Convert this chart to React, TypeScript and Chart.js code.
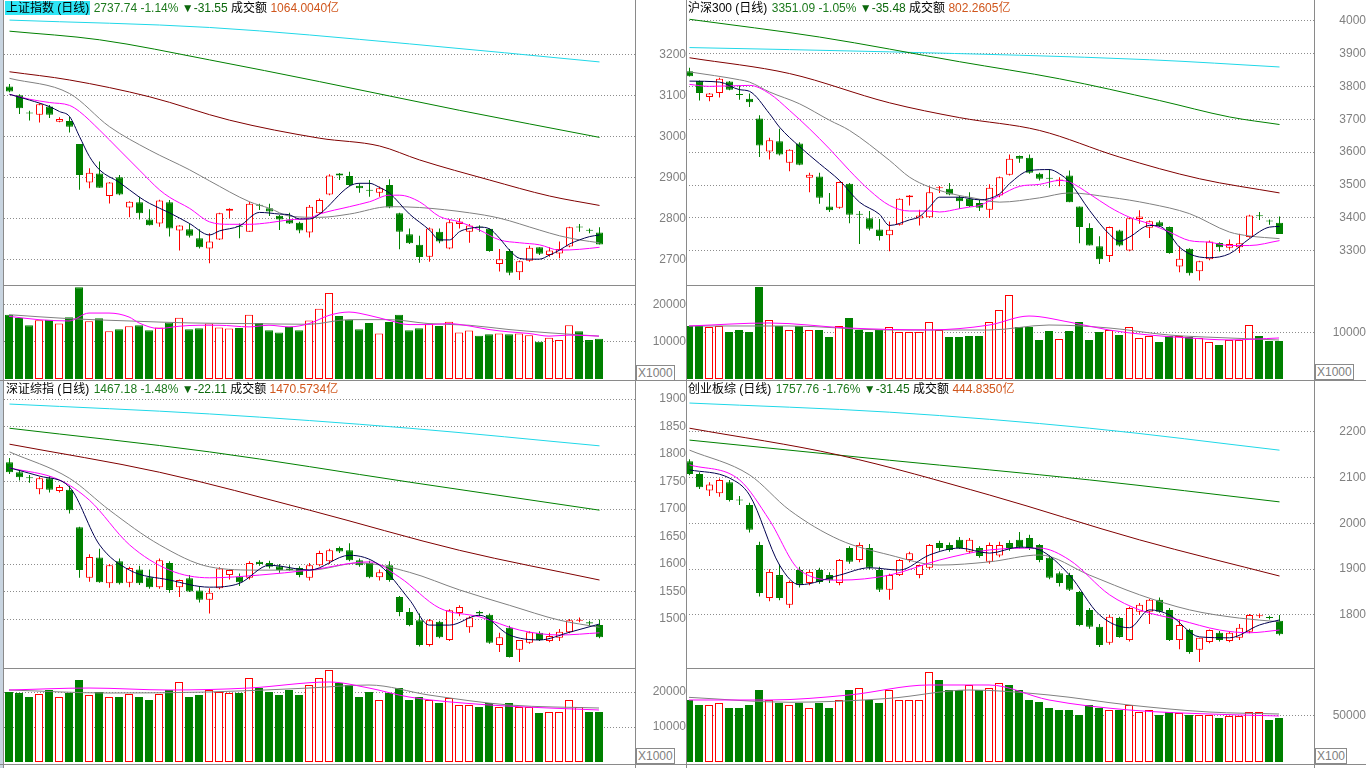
import React, { useEffect, useRef } from 'react';
import { Chart, registerables } from 'chart.js';
Chart.register(...registerables);

const RED = '#ff0000';
const GREEN = '#008000';
const GRID = '#8c8c8c';
const AXIS_TXT = '#808080';
const NUM_FONT = '"Liberation Sans", Arial, sans-serif';
const CJK_FONT = '"Liberation Sans", "Noto Sans CJK SC", sans-serif';
const MA_COLORS = ['#000050', '#ff00ff', '#808080', '#800000', '#008000', '#20d8e8'];

// ===== 上证指数 =====
const SH_HEADER = ['上证指数 (日线)', '2737.74', '-1.14%', '-31.55', '1064.0040亿'];
const SH_OPEN = [3123,3102,3058,3054,3074,3037,3039,2983,2889,2911,2856,2902,2828,2841,2799,2789,2841,2772,2775,2753,2728,2750,2820,2782,2769,2833,2826,2808,2799,2791,2767,2814,2860,2911,2905,2881,2870,2864,2883,2814,2763,2737,2708,2769,2728,2788,2769,2780,2776,2690,2722,2670,2698,2731,2712,2716,2733,2780,2773,2767];
const SH_HIGH = [3129,3104,3064,3082,3078,3048,3050,2983,2924,2940,2890,2907,2843,2854,2824,2847,2846,2785,2789,2775,2765,2815,2826,2789,2842,2837,2837,2810,2815,2793,2834,2850,2909,2912,2915,2887,2895,2879,2897,2815,2777,2759,2779,2777,2798,2802,2788,2785,2777,2727,2727,2699,2735,2731,2731,2745,2781,2788,2777,2780];
const SH_LOW = [3109,3056,3040,3035,3046,3036,3011,2871,2875,2876,2838,2858,2804,2799,2784,2781,2757,2723,2755,2728,2692,2749,2802,2753,2769,2822,2807,2773,2788,2765,2755,2812,2858,2895,2880,2864,2854,2854,2826,2726,2739,2693,2696,2741,2726,2777,2742,2769,2720,2672,2663,2651,2696,2712,2708,2704,2731,2769,2765,2738];
const SH_CLOSE = [3111,3070,3057,3080,3054,3044,3025,2907,2913,2876,2889,2860,2842,2814,2785,2845,2777,2784,2759,2731,2745,2814,2825,2781,2837,2832,2818,2799,2789,2772,2830,2846,2906,2906,2883,2875,2869,2875,2828,2769,2741,2707,2777,2745,2792,2794,2784,2779,2722,2702,2669,2697,2730,2715,2723,2727,2780,2779,2771,2738];
const SH_VOL = [17240,16350,14410,15730,15900,14850,16530,24570,15470,16260,12820,13350,14140,14410,13080,13790,15120,16440,13350,13610,14850,13790,13530,13700,17240,15030,13080,12460,13970,13080,15650,18830,23070,16880,15910,13350,15030,12200,15290,17240,13080,13610,14850,14230,15380,12460,12990,11580,12020,12200,12020,12200,11760,9990,11050,10430,14410,12820,10430,10780];
const SH_MA5 = [[0,3104],[2,3090],[4,3074],[5,3062],[6,3050],[7,3001],[8,2952],[9,2920],[11,2889],[13,2853],[14,2838],[16,2815],[18,2789],[20,2761],[21,2771],[23,2783],[25,2816],[27,2812],[28,2810],[29,2800],[30,2800],[31,2812],[34,2880],[35,2887],[36,2887],[37,2877],[38,2863],[40,2812],[42,2773],[43,2749],[44,2749],[45,2769],[46,2777],[47,2780],[48,2776],[49,2753],[50,2724],[51,2704],[52,2702],[53,2702],[54,2712],[55,2724],[56,2739],[57,2749],[58,2757],[59,2761]];
const SH_MA10 = [[0,3104],[2,3092],[4,3084],[6,3077],[7,3062],[9,3017],[11,2968],[13,2919],[15,2871],[16,2853],[18,2826],[20,2793],[22,2787],[24,2787],[26,2791],[28,2798],[30,2802],[31,2812],[34,2830],[36,2842],[38,2858],[39,2858],[41,2842],[43,2806],[45,2793],[47,2773],[49,2749],[51,2742],[53,2737],[55,2724],[57,2726],[59,2731]];
const SH_MA20 = [[0,3143],[6,3106],[10,3025],[14,2968],[18,2920],[20,2893],[24,2842],[26,2826],[28,2807],[31,2804],[34,2812],[38,2830],[41,2828],[46,2815],[49,2802],[53,2773],[55,2759],[57,2749],[59,2742]];
const SH_MA60 = [[0,3159],[6,3139],[14,3098],[22,3041],[31,2997],[37,2978],[41,2944],[48,2895],[54,2856],[59,2833]];
const SH_MA120 = [[0,3258],[9,3237],[20,3188],[31,3135],[45,3065],[59,2999]];
const SH_MA250 = [[0,3285],[20,3267],[40,3227],[59,3183]];
const SH_VMA5 = [[0,16800],[3,15900],[6,15560],[8,17680],[10,17680],[12,16620],[13,15030],[15,13530],[17,14140],[19,14410],[21,14410],[24,13970],[26,14410],[28,13970],[30,14850],[32,17060],[34,17950],[36,17060],[38,15730],[40,14590],[42,14590],[44,14850],[46,14230],[48,13260],[50,12640],[52,12200],[54,11490],[56,11760],[59,11500]];
const SH_VMA10 = [[0,17240],[6,16180],[12,15560],[18,15030],[24,14850],[30,14670],[34,15910],[38,15910],[42,14850],[46,14410],[50,13260],[54,12380],[59,11490]];
const SH_TICKS = [2700, 2800, 2900, 3000, 3100, 3200];
const SH_VTICKS = [10000, 20000];

// ===== 沪深300 =====
const HS_HEADER = ['沪深300 (日线)', '3351.09', '-1.05%', '-35.48', '802.2605亿'];
const HS_OPEN = [3846,3816,3768,3780,3815,3775,3762,3702,3602,3633,3568,3626,3522,3526,3435,3431,3504,3411,3399,3365,3347,3379,3463,3398,3402,3490,3489,3463,3458,3445,3425,3468,3531,3588,3583,3534,3520,3512,3529,3435,3369,3314,3284,3362,3301,3397,3370,3387,3372,3252,3306,3238,3274,3324,3309,3311,3342,3406,3390,3385];
const HS_HIGH = [3857,3818,3780,3826,3816,3803,3778,3712,3644,3671,3609,3630,3537,3537,3476,3511,3506,3421,3421,3397,3389,3460,3470,3425,3496,3497,3506,3468,3478,3455,3502,3526,3593,3590,3593,3537,3549,3524,3544,3435,3384,3344,3374,3364,3402,3423,3392,3392,3374,3314,3308,3270,3331,3326,3334,3352,3410,3418,3395,3404];
const HS_LOW = [3830,3757,3755,3766,3788,3759,3737,3585,3578,3590,3542,3560,3478,3443,3418,3428,3384,3321,3362,3331,3299,3377,3438,3377,3400,3476,3469,3428,3433,3421,3400,3463,3529,3568,3534,3514,3492,3496,3448,3323,3316,3260,3266,3313,3299,3382,3339,3372,3291,3235,3225,3210,3271,3298,3303,3293,3340,3394,3379,3351];
const HS_CLOSE = [3831,3780,3778,3823,3790,3774,3752,3620,3636,3593,3607,3562,3531,3461,3423,3509,3410,3410,3367,3345,3364,3458,3468,3407,3478,3493,3471,3451,3436,3431,3492,3524,3580,3580,3537,3519,3519,3517,3448,3372,3316,3274,3372,3316,3399,3404,3390,3375,3293,3276,3232,3268,3328,3311,3321,3323,3407,3405,3389,3351];
const HS_VOL = [11450,11450,11230,11450,10150,10580,10150,19870,12740,11450,10580,11450,10580,10580,9070,11450,13180,10580,10150,10580,11230,10150,10150,10150,12310,10580,9070,9070,9290,9290,12310,14900,18140,11230,11230,8420,10370,8640,10370,12310,8420,10150,10580,9500,11230,8860,9290,7990,9290,9290,9070,8860,7990,7340,8420,8420,11660,9290,8210,8210];
const HS_MA5 = [[0,3816],[3,3813],[5,3790],[6,3785],[8,3717],[9,3676],[11,3617],[13,3565],[15,3514],[17,3448],[19,3411],[20,3377],[22,3394],[23,3404],[24,3433],[25,3463],[27,3463],[29,3455],[31,3473],[32,3504],[34,3544],[36,3547],[37,3534],[38,3509],[40,3423],[42,3350],[43,3329],[44,3342],[46,3377],[47,3375],[48,3350],[49,3311],[51,3281],[52,3279],[54,3291],[56,3337],[58,3372],[59,3374]];
const HS_MA10 = [[0,3806],[2,3800],[6,3803],[8,3778],[10,3727],[12,3671],[14,3610],[16,3544],[18,3484],[20,3438],[22,3421],[24,3421],[25,3418],[27,3428],[28,3433],[29,3438],[31,3468],[33,3496],[35,3502],[37,3514],[38,3509],[40,3473],[42,3433],[44,3402],[46,3382],[48,3357],[50,3331],[52,3326],[54,3316],[56,3316],[59,3331]];
const HS_MA20 = [[0,3844],[5,3820],[6,3813],[8,3783],[11,3747],[14,3697],[16,3666],[20,3575],[22,3524],[24,3494],[27,3468],[28,3463],[31,3448],[35,3461],[38,3476],[42,3463],[46,3443],[50,3413],[54,3357],[56,3345],[59,3337]];
const HS_MA60 = [[0,3887],[10,3839],[20,3750],[27,3705],[35,3666],[43,3585],[51,3519],[59,3476]];
const HS_MA120 = [[0,4004],[13,3950],[27,3875],[37,3823],[47,3757],[54,3707],[59,3684]];
const HS_MA250 = [[0,3918],[20,3905],[46,3881],[59,3859]];
const HS_VMA5 = [[0,11450],[8,12100],[16,11000],[24,10600],[30,11650],[34,13600],[38,12300],[42,10580],[46,9500],[50,8860],[54,8440],[59,8860]];
const HS_VMA10 = [[0,11450],[10,11450],[20,10580],[30,10580],[36,11660],[42,11020],[48,9500],[54,8860],[59,8420]];
const HS_TICKS = [3300, 3400, 3500, 3600, 3700, 3800, 3900, 4000];
const HS_VTICKS = [10000];

// ===== 深证综指 =====
const SZ_HEADER = ['深证综指 (日线)', '1467.18', '-1.48%', '-22.11', '1470.5734亿'];
const SZ_OPEN = [1785,1767,1757,1736,1756,1733,1735,1667,1575,1612,1565,1605,1566,1590,1576,1558,1602,1558,1574,1552,1535,1556,1580,1577,1575,1604,1602,1596,1592,1593,1575,1598,1605,1629,1625,1607,1602,1576,1598,1540,1513,1498,1453,1495,1462,1511,1485,1513,1508,1453,1484,1444,1457,1475,1460,1466,1476,1497,1494,1489];
const SZ_HIGH = [1793,1770,1762,1759,1760,1744,1742,1668,1618,1628,1600,1610,1595,1597,1590,1610,1605,1572,1580,1560,1556,1594,1590,1583,1605,1607,1606,1600,1598,1596,1602,1624,1628,1632,1638,1610,1606,1590,1605,1542,1520,1510,1500,1497,1518,1525,1505,1515,1510,1475,1488,1462,1478,1478,1475,1482,1500,1503,1497,1499];
const SZ_LOW = [1764,1752,1748,1727,1730,1730,1692,1575,1568,1566,1557,1563,1558,1562,1555,1555,1548,1540,1549,1530,1510,1554,1572,1560,1572,1597,1592,1584,1588,1576,1570,1596,1600,1620,1605,1595,1574,1570,1568,1505,1487,1450,1450,1465,1460,1505,1475,1505,1455,1440,1430,1422,1455,1460,1458,1460,1474,1494,1488,1465];
const SZ_CLOSE = [1767,1758,1756,1756,1735,1740,1698,1589,1613,1567,1598,1565,1593,1565,1558,1607,1553,1571,1550,1535,1548,1592,1589,1567,1602,1600,1595,1589,1589,1580,1598,1620,1625,1623,1607,1598,1576,1585,1571,1513,1489,1453,1498,1467,1516,1522,1503,1510,1457,1467,1431,1462,1476,1462,1469,1477,1498,1498,1492,1467];
const SZ_VOL = [20000,19700,18570,19430,20570,18570,19710,23430,19140,20000,18570,18570,19430,18570,17710,19430,20570,22860,18570,19140,20570,20000,19710,19710,24000,21140,20000,19140,20570,19140,22000,24000,26290,22570,22000,18570,20000,17710,19710,21140,17710,18570,17710,16860,18290,16290,16290,15710,16860,15710,16860,15710,15710,14000,14290,14290,17710,15710,14290,14290];
const SZ_MA5 = [[0,1775],[3,1760],[6,1740],[9,1635],[12,1589],[16,1571],[20,1558],[23,1565],[26,1598],[30,1589],[34,1616],[37,1598],[40,1535],[42,1489],[44,1489],[47,1507],[50,1471],[53,1462],[56,1476],[59,1491]];
const SZ_MA10 = [[0,1775],[5,1753],[8,1716],[12,1635],[16,1589],[20,1575],[25,1580],[30,1589],[36,1604],[39,1576],[43,1520],[47,1504],[51,1480],[55,1471],[59,1475]];
const SZ_MA20 = [[0,1804],[6,1756],[10,1698],[15,1635],[20,1595],[25,1589],[30,1589],[35,1602],[40,1585],[45,1553],[50,1525],[55,1498],[59,1485]];
const SZ_MA60 = [[0,1818],[15,1767],[30,1698],[45,1625],[59,1571]];
const SZ_MA120 = [[0,1847],[20,1804],[40,1749],[59,1698]];
const SZ_MA250 = [[0,1891],[20,1873],[40,1847],[59,1815]];
const SZ_VMA5 = [[0,20570],[8,21140],[16,20570],[24,21140],[32,22860],[36,21140],[40,18570],[48,16290],[54,15430],[59,14860]];
const SZ_VMA10 = [[0,20570],[10,19710],[20,20000],[30,21140],[36,22000],[42,19140],[50,16290],[59,15430]];
const SZ_TICKS = [1500, 1550, 1600, 1650, 1700, 1750, 1800, 1850, 1900];
const SZ_VTICKS = [10000, 20000];

// ===== 创业板综 =====
const CY_HEADER = ['创业板综 (日线)', '1757.76', '-1.76%', '-31.45', '444.8350亿'];
const CY_OPEN = [2136,2108,2072,2066,2090,2052,2040,1953,1837,1887,1822,1898,1870,1898,1887,1870,1946,1920,1946,1898,1855,1887,1920,1887,1903,1957,1953,1964,1938,1946,1916,1930,1957,1964,1968,1953,1925,1891,1887,1850,1811,1774,1739,1793,1745,1807,1807,1833,1811,1745,1767,1724,1741,1761,1743,1750,1763,1797,1794,1787];
const CY_HIGH = [2140,2112,2090,2098,2095,2060,2045,1960,1900,1910,1875,1905,1898,1903,1893,1922,1950,1958,1955,1905,1890,1922,1938,1910,1955,1962,1958,1970,1968,1950,1958,1960,1963,1981,1975,1955,1930,1895,1892,1852,1815,1780,1800,1796,1818,1826,1835,1838,1815,1790,1770,1750,1768,1765,1765,1780,1802,1803,1798,1800];
const CY_LOW = [2105,2075,2060,2058,2048,2040,1980,1840,1830,1832,1815,1860,1865,1868,1870,1865,1912,1915,1900,1850,1833,1885,1915,1880,1900,1940,1938,1944,1935,1925,1912,1926,1940,1945,1942,1915,1878,1862,1852,1775,1770,1730,1735,1750,1742,1800,1780,1805,1743,1725,1715,1697,1738,1742,1740,1745,1760,1793,1790,1755];
const CY_CLOSE = [2108,2079,2085,2095,2051,2050,1986,1848,1894,1837,1872,1866,1894,1872,1876,1920,1916,1953,1903,1855,1887,1920,1935,1909,1953,1946,1942,1946,1964,1929,1953,1953,1946,1948,1946,1920,1881,1870,1855,1778,1774,1734,1796,1752,1815,1822,1833,1807,1745,1778,1719,1750,1767,1745,1761,1772,1800,1798,1793,1758];
const CY_VOL = [66950,61560,61560,63710,58320,58320,61560,77750,66950,63710,61560,63710,58320,63710,58320,66950,77750,79910,66950,63710,77750,66950,66950,66950,97190,88550,77750,77750,83150,77750,79910,85310,83150,77750,66950,64790,58320,56160,56160,50760,61560,58320,56160,56160,61560,54000,56160,50760,54000,52920,50760,50760,50760,47520,49680,49680,54000,54000,45360,47520];
const CY_MA5 = [[0,2117],[4,2099],[6,2062],[9,1909],[11,1866],[15,1887],[18,1903],[21,1898],[24,1931],[27,1946],[30,1935],[33,1948],[35,1942],[38,1887],[41,1800],[44,1772],[46,1811],[48,1800],[51,1752],[54,1750],[57,1778],[59,1789]];
const CY_MA10 = [[0,2128],[5,2095],[8,2007],[11,1898],[15,1876],[20,1887],[25,1920],[30,1942],[35,1946],[38,1920],[42,1844],[45,1811],[49,1789],[53,1767],[56,1761],[59,1767]];
const CY_MA20 = [[0,2160],[6,2106],[10,2029],[15,1964],[20,1931],[25,1909],[30,1916],[35,1931],[40,1887],[45,1844],[50,1811],[55,1793],[59,1785]];
const CY_MA60 = [[0,2208],[15,2149],[30,2062],[45,1964],[59,1885]];
const CY_MA120 = [[0,2182],[20,2138],[40,2095],[59,2047]];
const CY_MA250 = [[0,2263],[20,2243],[40,2208],[59,2160]];
const CY_VMA5 = [[0,66950],[8,66950],[16,72350],[24,83150],[30,83150],[36,66950],[44,56160],[52,51840],[59,49680]];
const CY_VMA10 = [[0,69800],[10,64500],[20,68700],[28,77750],[36,72350],[44,61560],[52,54000],[59,51840]];
const CY_TICKS = [1800, 1900, 2000, 2100, 2200];
const CY_VTICKS = [50000];

Chart.defaults.font.family = NUM_FONT;
Chart.defaults.font.size = 12;

function lineDs(pts: number[][], color: string) {
  return {
    type: 'line',
    data: pts.map((p) => ({ x: p[0], y: p[1] })),
    borderColor: color,
    borderWidth: 1,
    pointRadius: 0,
    fill: false,
    cubicInterpolationMode: 'monotone',
    order: 0,
  };
}

function yScale(min: number, max: number, ticks: number[], axisW: number, pad: number) {
  return {
    type: 'linear',
    position: 'right',
    min,
    max,
    afterBuildTicks: (s: any) => { s.ticks = ticks.map((v) => ({ value: v })); },
    afterFit: (s: any) => { s.width = axisW; s.paddingTop = 0; s.paddingBottom = 0; },
    grid: { color: GRID, lineWidth: 1, drawTicks: false },
    border: { display: false, dash: [1, 2] },
    ticks: {
      color: AXIS_TXT,
      padding: pad,
      crossAlign: 'far',
      autoSkip: false,
      font: { size: 12, family: NUM_FONT },
      callback: (v: any) => String(v),
    },
  };
}

function baseOptions(xmin: number, xmax: number, y: any, padding: any) {
  return {
    responsive: false,
    animation: false,
    events: [],
    layout: { padding },
    plugins: { legend: { display: false }, tooltip: { enabled: false } },
    scales: {
      x: { type: 'linear', min: xmin, max: xmax, display: false, offset: false },
      y,
    },
  };
}

function priceConfig(p: any) {
  const idx = p.o.map((_: number, i: number) => i);
  const up = idx.map((i: number) => p.c[i] >= p.o[i]);
  return {
    type: 'bar',
    data: {
      datasets: [
        ...p.mas.map((m: number[][], i: number) => lineDs(m, MA_COLORS[i])),
        {
          type: 'bar',
          data: idx.map((i: number) => ({ x: i, y: [p.o[i], p.c[i]] })),
          backgroundColor: up.map((u: boolean) => (u ? '#ffffff' : GREEN)),
          borderColor: up.map((u: boolean) => (u ? RED : GREEN)),
          borderWidth: 1,
          borderSkipped: false,
          barThickness: 7,
          grouped: false,
          minBarLength: 1,
          inflateAmount: 0,
          order: 2,
        },
        {
          type: 'bar',
          data: idx.map((i: number) => ({ x: i, y: [p.l[i], p.h[i]] })),
          backgroundColor: up.map((u: boolean) => (u ? RED : GREEN)),
          borderWidth: 0,
          barThickness: 1,
          grouped: false,
          inflateAmount: 0,
          order: 3,
        },
      ],
    },
    options: baseOptions(p.xr[0], p.xr[1], yScale(p.yr[0], p.yr[1], p.ticks, p.axisW, p.pad), p.padding),
  };
}

function volConfig(p: any) {
  const idx = p.v.map((_: number, i: number) => i);
  const up = idx.map((i: number) => p.c[i] >= p.o[i]);
  return {
    type: 'bar',
    data: {
      datasets: [
        lineDs(p.vma5, '#ff00ff'),
        lineDs(p.vma10, '#808080'),
        {
          type: 'bar',
          data: idx.map((i: number) => ({ x: i, y: p.v[i] })),
          backgroundColor: up.map((u: boolean) => (u ? '#ffffff' : GREEN)),
          borderColor: up.map((u: boolean) => (u ? RED : GREEN)),
          borderWidth: 1,
          borderSkipped: false,
          barThickness: 8,
          grouped: false,
          inflateAmount: 0,
          order: 2,
        },
      ],
    },
    options: baseOptions(p.xr[0], p.xr[1], yScale(0, p.vmax, p.ticks, p.axisW, p.pad), p.padding),
  };
}

function ChartBox({ left, top, width, height, make }: any) {
  const ref = useRef<HTMLCanvasElement>(null);
  useEffect(() => {
    const chart = new Chart(ref.current as HTMLCanvasElement, make() as any);
    return () => chart.destroy();
  }, []);
  return (
    <canvas
      ref={ref}
      width={width}
      height={height}
      style={{ position: 'absolute', left, top, width, height, display: 'block' }}
    />
  );
}

function Header({ left, top, h, hl }: any) {
  return (
    <div
      style={{
        position: 'absolute', left, top, height: 16, lineHeight: '16px', fontSize: 12,
        fontFamily: CJK_FONT, whiteSpace: 'nowrap', color: '#000',
      }}
    >
      <span style={{ background: hl ? '#2ee6f6' : 'transparent', padding: '0 1px' }}>{h[0]}</span>
      <span style={{ color: '#1d7a1d' }}> {h[1]} {h[2]} </span>
      <span style={{ color: '#0c680c' }}>▼{h[3]}</span>
      <span> 成交额 </span>
      <span style={{ color: '#d0561c' }}>{h[4]}</span>
    </div>
  );
}

function Line({ l, t, w, h, c }: any) {
  return <div style={{ position: 'absolute', left: l, top: t, width: w, height: h, background: c || '#8a8a8a' }} />;
}

function UnitBox({ left, top, text }: any) {
  return (
    <div
      style={{
        position: 'absolute', left, top, height: 14, lineHeight: '14px', fontSize: 12,
        fontFamily: NUM_FONT, color: AXIS_TXT, border: '1px solid #8a8a8a', padding: '0 1px',
        background: '#fff',
      }}
    >
      {text}
    </div>
  );
}

const LEFT_PRICE_X = [-0.55, 62.55];
const LEFT_VOL_X = [-0.5, 62.6];
const RIGHT_PRICE_X = [-0.35, 62.45];
const RIGHT_VOL_X = [-0.3, 62.5];

export default function App() {
  const sh = { o: SH_OPEN, h: SH_HIGH, l: SH_LOW, c: SH_CLOSE, v: SH_VOL };
  const hs = { o: HS_OPEN, h: HS_HIGH, l: HS_LOW, c: HS_CLOSE, v: HS_VOL };
  const sz = { o: SZ_OPEN, h: SZ_HIGH, l: SZ_LOW, c: SZ_CLOSE, v: SZ_VOL };
  const cy = { o: CY_OPEN, h: CY_HIGH, l: CY_LOW, c: CY_CLOSE, v: CY_VOL };

  return (
    <div style={{ position: 'fixed', left: 0, top: 0, width: 1366, height: 768, background: '#fff', overflow: 'hidden' }}>
      {/* 上证指数 */}
      <ChartBox left={0} top={0} width={686} height={285} make={() => priceConfig({
        ...sh, mas: [SH_MA5, SH_MA10, SH_MA20, SH_MA60, SH_MA120, SH_MA250], xr: LEFT_PRICE_X, yr: [2639, 3295],
        ticks: SH_TICKS, axisW: 51, pad: 21, padding: { top: 16, left: 4, right: 0, bottom: 0 } })} />
      <ChartBox left={0} top={285} width={686} height={95} make={() => volConfig({
        ...sh, vma5: SH_VMA5, vma10: SH_VMA10, xr: LEFT_VOL_X, vmax: 25200, ticks: SH_VTICKS, axisW: 51, pad: 14,
        padding: { top: 0, left: 4, right: 0, bottom: 1 } })} />
      {/* 沪深300 */}
      <ChartBox left={686} top={0} width={680} height={285} make={() => priceConfig({
        ...hs, mas: [HS_MA5, HS_MA10, HS_MA20, HS_MA60, HS_MA120, HS_MA250], xr: RIGHT_PRICE_X, yr: [3196, 4014],
        ticks: HS_TICKS, axisW: 52, pad: 22, padding: { top: 16, left: 0, right: 0, bottom: 0 } })} />
      <ChartBox left={686} top={285} width={680} height={95} make={() => volConfig({
        ...hs, vma5: HS_VMA5, vma10: HS_VMA10, xr: RIGHT_VOL_X, vmax: 20300, ticks: HS_VTICKS, axisW: 52, pad: 15,
        padding: { top: 0, left: 0, right: 0, bottom: 1 } })} />
      {/* 深证综指 */}
      <ChartBox left={0} top={380} width={686} height={288} make={() => priceConfig({
        ...sz, mas: [SZ_MA5, SZ_MA10, SZ_MA20, SZ_MA60, SZ_MA120, SZ_MA250], xr: LEFT_PRICE_X, yr: [1411, 1902],
        ticks: SZ_TICKS, axisW: 51, pad: 21, padding: { top: 18, left: 4, right: 0, bottom: 0 } })} />
      <ChartBox left={0} top={668} width={686} height={100} make={() => volConfig({
        ...sz, vma5: SZ_VMA5, vma10: SZ_VMA10, xr: LEFT_VOL_X, vmax: 26860, ticks: SZ_VTICKS, axisW: 51, pad: 14,
        padding: { top: 0, left: 4, right: 0, bottom: 6 } })} />
      {/* 创业板综 */}
      <ChartBox left={686} top={380} width={680} height={288} make={() => priceConfig({
        ...cy, mas: [CY_MA5, CY_MA10, CY_MA20, CY_MA60, CY_MA120, CY_MA250], xr: RIGHT_PRICE_X, yr: [1684, 2274],
        ticks: CY_TICKS, axisW: 52, pad: 22, padding: { top: 18, left: 0, right: 0, bottom: 0 } })} />
      <ChartBox left={686} top={668} width={680} height={100} make={() => volConfig({
        ...cy, vma5: CY_VMA5, vma10: CY_VMA10, xr: RIGHT_VOL_X, vmax: 101500, ticks: CY_VTICKS, axisW: 52, pad: 15,
        padding: { top: 0, left: 0, right: 0, bottom: 6 } })} />

      {/* frame */}
      <Line l={0} t={0} w={3} h={768} c="#c8d4e0" />
      <Line l={3} t={0} w={1} h={768} />
      <Line l={635} t={0} w={1} h={768} />
      <Line l={686} t={0} w={1} h={768} />
      <Line l={1314} t={0} w={1} h={768} />
      <Line l={4} t={285} w={631} h={1} />
      <Line l={686} t={285} w={628} h={1} />
      <Line l={0} t={380} w={1366} h={1} />
      <Line l={4} t={668} w={631} h={1} />
      <Line l={686} t={668} w={628} h={1} />
      <Line l={0} t={764} w={1366} h={1} />

      <UnitBox left={636} top={365} text="X1000" />
      <UnitBox left={1315} top={364} text="X1000" />
      <UnitBox left={636} top={748} text="X1000" />
      <UnitBox left={1315} top={748} text="X100" />

      <Header left={5} top={0} h={SH_HEADER} hl />
      <Header left={687} top={0} h={HS_HEADER} />
      <Header left={5} top={381} h={SZ_HEADER} />
      <Header left={687} top={381} h={CY_HEADER} />
    </div>
  );
}
